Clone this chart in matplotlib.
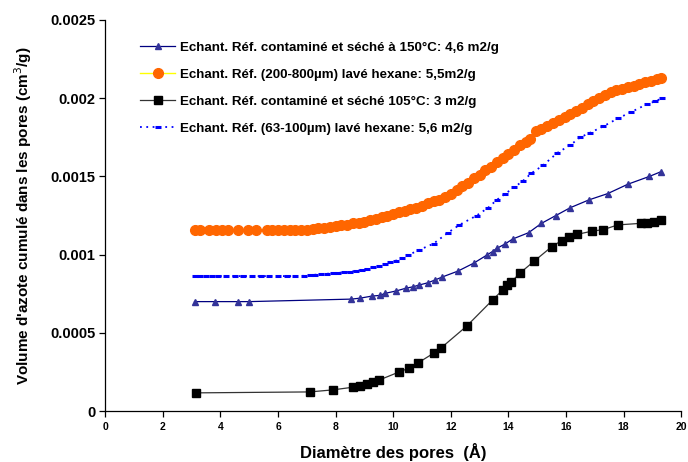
import matplotlib.pyplot as plt

plt.rcParams['font.family'] = ['Liberation Sans', 'DejaVu Sans']

# Echant. Réf. contaminé et séché à 150°C (triangles)
tri_x = [3.1, 3.8, 4.6, 5.0, 8.55, 8.85, 9.25, 9.55, 9.7, 10.1, 10.45, 10.7, 10.9,
         11.2, 11.45, 11.7, 12.25, 12.8, 13.25, 13.45, 13.6, 13.9, 14.15, 14.7,
         15.15, 15.65, 16.15, 16.8, 17.45, 18.15, 18.9, 19.3]
tri_y = [0.0007, 0.0007, 0.0007, 0.0007, 0.000716, 0.000722, 0.000735, 0.00074,
         0.000752, 0.000768, 0.000786, 0.000795, 0.000806, 0.00082, 0.000838,
         0.000857, 0.000895, 0.000946, 0.000997, 0.00102, 0.00104, 0.00107,
         0.0011, 0.00114, 0.0012, 0.00125, 0.0013, 0.00135, 0.00139, 0.00145,
         0.0015, 0.00153]

# Echant. Réf. (200-800µm) lavé hexane (cercles)
orange_x = [3.1, 3.3, 3.6, 3.85, 4.05, 4.25, 4.6, 4.95, 5.25, 5.6, 5.8, 6.0, 6.2,
            6.4, 6.6, 6.8, 7.0, 7.2, 7.4, 7.6, 7.8, 8.0, 8.2, 8.4, 8.6, 8.8, 9.0,
            9.2, 9.4, 9.6, 9.8, 10.0, 10.2, 10.4, 10.6, 10.8, 11.0, 11.2, 11.4,
            11.6, 11.8, 12.0, 12.2, 12.4, 12.6, 12.8, 13.0, 13.2, 13.4, 13.6,
            13.8, 14.0, 14.2, 14.4, 14.6, 14.75, 14.95, 15.15, 15.35, 15.55,
            15.75, 15.95, 16.15, 16.35, 16.55, 16.75, 16.95, 17.15, 17.35, 17.55,
            17.75, 17.95, 18.15, 18.35, 18.55, 18.75, 18.95, 19.15, 19.3]
orange_y = [0.00116, 0.00116, 0.00116, 0.00116, 0.00116, 0.00116, 0.00116,
            0.00116, 0.00116, 0.00116, 0.00116, 0.00116, 0.00116, 0.00116,
            0.00116, 0.00116, 0.00116, 0.001165, 0.00117, 0.00117, 0.001175,
            0.00118, 0.00119, 0.00119, 0.0012, 0.0012, 0.00121, 0.00122, 0.00123,
            0.00124, 0.00125, 0.00126, 0.00127, 0.00128, 0.00129, 0.0013,
            0.00131, 0.00133, 0.00134, 0.00135, 0.00137, 0.00139, 0.00141,
            0.00144, 0.00146, 0.00149, 0.00151, 0.00154, 0.00156, 0.00159,
            0.00162, 0.00164, 0.00167, 0.0017, 0.00172, 0.00174, 0.00179,
            0.0018, 0.00182, 0.00184, 0.00186, 0.00188, 0.0019, 0.00192,
            0.00194, 0.00196, 0.00198, 0.002, 0.00202, 0.00204, 0.00205,
            0.00206, 0.00207, 0.00208, 0.00209, 0.0021, 0.00211, 0.00212, 0.00213]

# Echant. Réf. contaminé et séché 105°C (carrés)
sq_x = [3.15, 7.1, 7.9, 8.6, 8.85, 9.1, 9.3, 9.5, 10.2, 10.55, 10.85, 11.4, 11.65,
        12.55, 13.45, 13.8, 13.95, 14.1, 14.4, 14.9, 15.5, 15.85, 16.1, 16.4,
        16.9, 17.3, 17.8, 18.6, 18.8, 19.05, 19.3]
sq_y = [0.000117, 0.000123, 0.000136, 0.000153, 0.000162, 0.000173, 0.000185,
        0.000198, 0.00025, 0.000275, 0.000307, 0.00037, 0.000402, 0.000543,
        0.00071, 0.000774, 0.000806, 0.000825, 0.000882, 0.000959, 0.00105,
        0.00109, 0.00111, 0.00113, 0.00115, 0.00116, 0.00119, 0.0012, 0.0012,
        0.00121, 0.00122]

# Echant. Réf. (63-100µm) lavé hexane (pointillés)
blue_x = [3.1, 3.3, 3.5, 3.7, 3.9, 4.2, 4.5, 4.8, 5.1, 5.4, 5.7, 6.0, 6.3, 6.6,
          6.9, 7.1, 7.3, 7.5, 7.7, 7.9, 8.1, 8.3, 8.5, 8.7, 8.9, 9.1, 9.3, 9.5,
          9.7, 9.9, 10.1, 10.3, 10.5, 10.9, 11.4, 11.9, 12.3, 12.9, 13.3, 13.6,
          13.9, 14.2, 14.5, 14.8, 15.2, 15.7, 16.15, 16.5, 16.85, 17.3, 17.8,
          18.25, 18.8, 19.1, 19.35]
blue_y = [0.000863, 0.000863, 0.000863, 0.000863, 0.000863, 0.000863, 0.000863,
          0.000863, 0.000863, 0.000863, 0.000863, 0.000863, 0.000863, 0.000863,
          0.000865, 0.00087, 0.000872, 0.000874, 0.000878, 0.00088, 0.000884,
          0.000887, 0.00089, 0.000896, 0.000902, 0.00091, 0.00092, 0.000928,
          0.000938, 0.00095, 0.000962, 0.000978, 0.000995, 0.00103, 0.00107,
          0.00114, 0.00119, 0.00125, 0.0013, 0.00135, 0.00139, 0.00143, 0.00147,
          0.00152, 0.00157, 0.00165, 0.0017, 0.00175, 0.00178, 0.00182, 0.00187,
          0.00191, 0.00196, 0.00198, 0.002]

labels = ['Echant. Réf. contaminé et séché à 150°C: 4,6 m2/g',
          'Echant. Réf. (200-800µm) lavé hexane: 5,5m2/g',
          'Echant. Réf. contaminé et séché 105°C: 3 m2/g',
          'Echant. Réf. (63-100µm) lavé hexane: 5,6 m2/g']

fig = plt.figure(figsize=(6.88, 4.62), dpi=100)
ax = fig.add_axes([0.153, 0.110, 0.837, 0.847])

ax.plot(tri_x, tri_y, color='#000080', lw=0.9, marker='^', ms=5,
        mfc='#333399', mec='#333399', label=labels[0])
ax.plot(orange_x, orange_y, color='#FFFF00', lw=1, marker='o', ms=7,
        mfc='#FF6600', mec='#FF6600', label=labels[1])
ax.plot(sq_x, sq_y, color='#333333', lw=0.9, marker='s', ms=6,
        mfc='black', mec='black', label=labels[2])
ax.plot(blue_x, blue_y, color='#0000FF', lw=1.3, ls=(0, (1, 2.5)), marker='_',
        ms=5, mew=2.2, label=labels[3])

ax.set_xlim(0, 20)
ax.set_ylim(0, 0.0025)
ax.set_xticks(range(0, 21, 2))
ax.set_yticks([0, 0.0005, 0.001, 0.0015, 0.002, 0.0025])
ax.set_yticklabels(['0', '0.0005', '0.001', '0.0015', '0.002', '0.0025'])

for s in ['top', 'right']:
    ax.spines[s].set_visible(False)
for s in ['left', 'bottom']:
    ax.spines[s].set_linewidth(0.9)

ax.tick_params(axis='x', direction='out', length=4, width=0.9, labelsize=7.5, pad=4)
ax.tick_params(axis='y', direction='out', length=4, width=0.9, labelsize=10.5, pad=3)
for t in ax.get_xticklabels() + ax.get_yticklabels():
    t.set_fontweight('bold')

ax.set_xlabel('Diamètre des pores  (Å)', fontsize=12, fontweight='bold', labelpad=8)
ax.set_ylabel("Volume d'azote cumulé dans les pores (cm$^3$/g)", fontsize=11,
              fontweight='bold', labelpad=12)

leg = ax.legend(loc='upper left', bbox_to_anchor=(0.04, 0.975), frameon=False,
                handlelength=2.6, handletextpad=0.4, labelspacing=1.1,
                prop={'weight': 'bold', 'size': 9.6})

fig.savefig('out.png', dpi=100)
